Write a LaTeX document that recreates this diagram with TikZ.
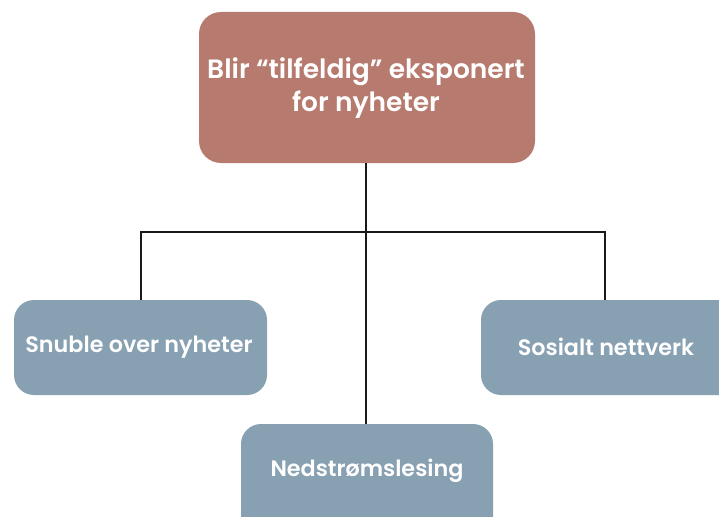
\documentclass[tikz,border=0pt]{standalone}
\usepackage{fontspec}
\setmainfont{Poppins}[UprightFont={* Medium},BoldFont={* SemiBold}]
\begin{document}
\begin{tikzpicture}[x=1pt,y=-1pt,
  topbox/.style={fill=topfill,rounded corners=22pt},
  subbox/.style={fill=subfill,rounded corners=20pt},
  label/.style={text=white,font=\bfseries\fontsize{26.5}{33}\selectfont,align=center},
  sublabel/.style={text=white,font=\bfseries\fontsize{22.3}{24}\selectfont},
  link/.style={draw=black!90,line width=1.6pt}]
\definecolor{topfill}{HTML}{B77A6E}
\definecolor{subfill}{HTML}{87A0B2}
\useasboundingbox (0,0) rectangle (719,516);
\clip (0,0) rectangle (719,516);
% boxes
\fill[topbox] (199,12) rectangle (535,163);
\fill[subbox] (14,300) rectangle (267,395);
\fill[subbox] (481,300) rectangle (760,395);
\fill[subbox] (241,424) rectangle (493,560);
% box anchors
\coordinate (top) at (366,163);
\coordinate (left) at (141,300);
\coordinate (right) at (605,300);
\coordinate (mid) at (366,424);
\coordinate (bar) at (366,232);
% connectors
\draw[link] (top) -- (mid);
\draw[link] (left) |- (bar) -| (right);
% labels
\node[label] (t) at (366,88) {Blir “tilfeldig” eksponert\\for nyheter};
\node[sublabel] (a) at (139,347) {Snuble over nyheter};
\node[sublabel] (b) at (606,347) {Sosialt nettverk};
\node[sublabel] (c) at (367,471) {Nedstrømslesing};
\end{tikzpicture}
\end{document}
